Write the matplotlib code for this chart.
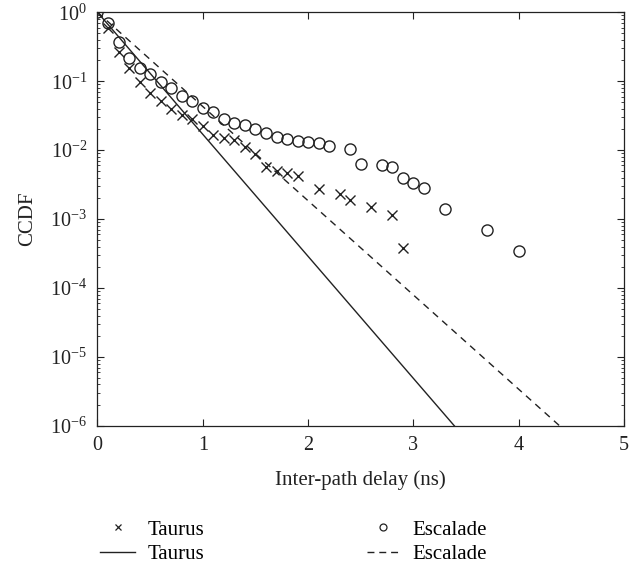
"""CCDF of inter-path delay, Taurus vs Escalade, with exponential fits."""
import matplotlib

matplotlib.use("Agg")

import matplotlib.pyplot as plt
from matplotlib.lines import Line2D
from matplotlib.ticker import LogLocator, NullFormatter

INK = "#222222"

# measured CCDF points
taurus_x = [0.0, 0.1, 0.2, 0.3, 0.4, 0.5, 0.6, 0.7, 0.8, 0.9, 1.0, 1.1, 1.2,
            1.3, 1.4, 1.5, 1.6, 1.7, 1.8, 1.9, 2.1, 2.3, 2.4, 2.6, 2.8, 2.9]
taurus_y = [1.0, 0.59, 0.27, 0.155, 0.099, 0.067, 0.052, 0.039, 0.0325,
            0.0284, 0.0225, 0.0167, 0.0152, 0.014, 0.0113, 0.0087, 0.0058,
            0.005, 0.0046, 0.0042, 0.0027, 0.0023, 0.0019, 0.0015, 0.00113,
            0.00038]

escalade_x = [0.0, 0.1, 0.2, 0.3, 0.4, 0.5, 0.6, 0.7, 0.8, 0.9, 1.0, 1.1,
              1.2, 1.3, 1.4, 1.5, 1.6, 1.7, 1.8, 1.9, 2.0, 2.1, 2.2, 2.4,
              2.5, 2.7, 2.8, 2.9, 3.0, 3.1, 3.3, 3.7, 4.0]
escalade_y = [1.0, 0.69, 0.375, 0.22, 0.158, 0.128, 0.099, 0.079, 0.061,
              0.052, 0.041, 0.036, 0.028, 0.025, 0.023, 0.020, 0.0176,
              0.0158, 0.0145, 0.0138, 0.0133, 0.0126, 0.0115, 0.0103,
              0.0064, 0.0061, 0.0057, 0.0039, 0.0033, 0.0028, 0.0014,
              0.0007, 0.00035]

# exponential fits (straight lines on the log axis), endpoints
taurus_fit_x = [0.0, 3.39]
taurus_fit_y = [1.0, 1e-6]
escalade_fit_x = [0.0, 4.39]
escalade_fit_y = [1.0, 1e-6]

plt.rcParams["font.family"] = ["Liberation Serif", "DejaVu Serif"]
plt.rcParams["mathtext.fontset"] = "stix"

fig = plt.figure(figsize=(6.41, 5.67), dpi=100)
ax = fig.add_axes([0.1521, 0.2487, 0.8214, 0.7296])

ax.plot(taurus_x, taurus_y, linestyle="none", marker="x", color=INK,
        markersize=7, markeredgewidth=1.0)
ax.plot(escalade_x, escalade_y, linestyle="none", marker="o", color=INK,
        markerfacecolor="none", markersize=8, markeredgewidth=1.0)
ax.plot(taurus_fit_x, taurus_fit_y, color=INK, linewidth=1.0)
ax.plot(escalade_fit_x, escalade_fit_y, color=INK, linewidth=1.0,
        linestyle=(0, (5, 4)))

ax.set_yscale("log")
ax.set_xlim(0, 5)
ax.set_ylim(1e-6, 1)
ax.set_xticks([0, 1, 2, 3, 4, 5])
ax.yaxis.set_major_locator(LogLocator(base=10, numticks=10))
ax.yaxis.set_minor_locator(LogLocator(base=10, subs=range(2, 10), numticks=10))
ax.yaxis.set_minor_formatter(NullFormatter())
ax.tick_params(which="both", direction="in", top=True, right=True,
               labelsize=14.5, colors=INK)
ax.tick_params(which="major", length=5, width=0.8)
ax.tick_params(which="minor", length=2.5, width=0.6)
ax.tick_params(axis="x", pad=7)
ax.tick_params(axis="y", pad=7.5)
for spine in ax.spines.values():
    spine.set_color(INK)
    spine.set_linewidth(0.9)

ax.set_xlabel("Inter-path delay (ns)", fontsize=15, color=INK, labelpad=11)
ax.set_ylabel("CCDF", fontsize=15, color=INK, labelpad=9)

# two-column legend below the axes, no frame
left_handles = [
    Line2D([], [], linestyle="none", marker="x", color=INK, markersize=5,
           markeredgewidth=0.9),
    Line2D([], [], color=INK, linewidth=1.0),
]
right_handles = [
    Line2D([], [], linestyle="none", marker="o", color=INK,
           markerfacecolor="none", markersize=5, markeredgewidth=0.9),
    Line2D([], [], color=INK, linewidth=1.0, linestyle=(0, (5, 3.5))),
]
legend_kw = dict(loc="upper left", frameon=False, fontsize=15,
                 borderpad=0, borderaxespad=0, labelspacing=0.25)
fig.legend(left_handles, ["Taurus", "Taurus"],
           bbox_to_anchor=(100 / 641, 1 - 520 / 567),
           handlelength=1.7, handletextpad=0.6, **legend_kw)
fig.legend(right_handles, ["Escalade", "Escalade"],
           bbox_to_anchor=(367 / 641, 1 - 520 / 567),
           handlelength=1.52, handletextpad=0.64, **legend_kw)

fig.savefig("out.png", dpi=100, facecolor="white")
